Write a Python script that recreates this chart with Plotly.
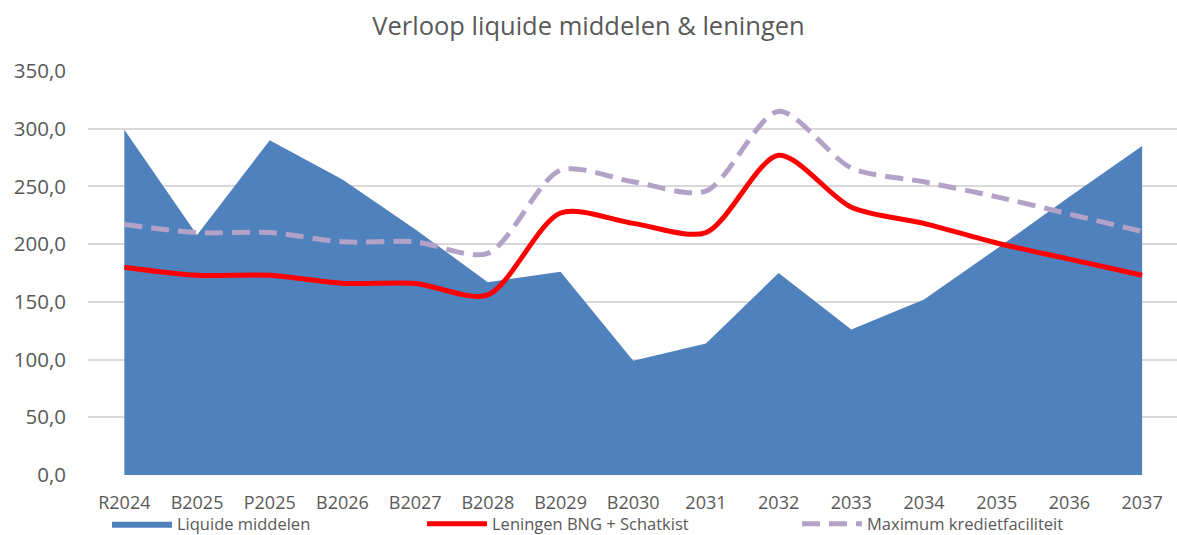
import plotly.graph_objects as go

categories = ["R2024", "B2025", "P2025", "B2026", "B2027", "B2028", "B2029", "B2030",
              "2031", "2032", "2033", "2034", "2035", "2036", "2037"]
liquide = [299, 208, 290, 256, 213, 167, 176, 99, 114, 175, 126, 152, 196, 241, 285]
leningen = [180, 173, 173, 166, 166, 156, 227, 218, 210, 277, 232, 218, 201, 187, 173]
maximum = [217, 210, 210, 202, 202, 192, 264, 254, 246, 315, 266, 254, 241, 226, 211]
y_ticks = [0, 50, 100, 150, 200, 250, 300, 350]

FONT = "'Open Sans', 'Noto Sans', sans-serif"
GREY = "#595959"

fig = go.Figure()
fig.add_trace(go.Scatter(
    x=categories, y=liquide, name="Liquide middelen", mode="lines",
    fill="tozeroy", fillcolor="#4F81BD", line=dict(width=0, color="#4F81BD"),
    legend="legend"))
fig.add_trace(go.Scatter(
    x=categories, y=leningen, name="Leningen BNG + Schatkist", mode="lines",
    line=dict(color="#FF0000", width=5, shape="spline", smoothing=0.8),
    legend="legend2"))
fig.add_trace(go.Scatter(
    x=categories, y=maximum, name="Maximum kredietfaciliteit", mode="lines",
    line=dict(color="#B3A2C7", width=5, dash="18px,9px", shape="spline", smoothing=0.8),
    legend="legend3"))

leg_common = dict(orientation="h", yanchor="middle", y=(535 - 524) / 535,
                  xref="container", yref="container",
                  xanchor="left", font=dict(family=FONT, size=16.5, color=GREY),
                  bgcolor="rgba(0,0,0,0)", itemwidth=60)

fig.update_layout(
    width=1177, height=535,
    margin=dict(l=88, r=0, t=71, b=60, autoexpand=False),
    paper_bgcolor="white", plot_bgcolor="white",
    separators=",.",
    title=dict(text="Verloop liquide middelen & leningen", x=0.5, xanchor="center",
               y=(535 - 26) / 535, yanchor="middle",
               font=dict(family=FONT, size=25.5, color=GREY)),
    legend=dict(leg_common, x=107 / 1177),
    legend2=dict(leg_common, x=422 / 1177),
    legend3=dict(leg_common, x=797 / 1177),
    showlegend=True,
)
fig.update_xaxes(
    type="category", range=[-0.5, 14.48], showgrid=False, showline=False,
    zeroline=False, ticks="", ticklabelstandoff=15, tickangle=0, automargin=False,
    tickfont=dict(family=FONT, size=18, color=GREY))
fig.update_yaxes(
    range=[0, 350], tickvals=y_ticks, tickformat=".1f", automargin=False,
    showgrid=True, gridcolor="#D9D9D9", gridwidth=1.5, zeroline=False,
    showline=False, ticks="", ticklabelstandoff=21,
    tickfont=dict(family=FONT, size=20.5, color=GREY))

fig.write_html("out.html", config={"displayModeBar": False},
               post_script="document.body.style.margin='0';document.body.style.overflow='hidden';")
